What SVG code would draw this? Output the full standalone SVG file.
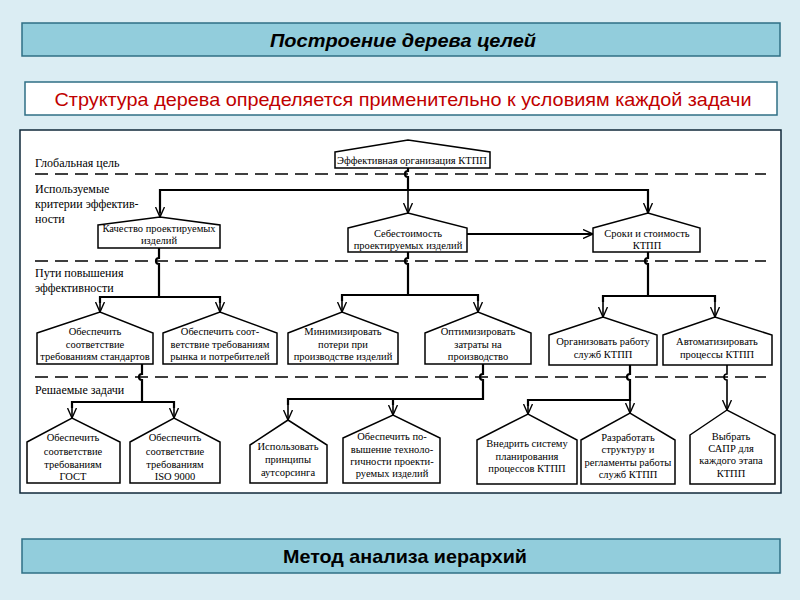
<svg xmlns="http://www.w3.org/2000/svg" width="800" height="600" viewBox="0 0 800 600">
<style>
.bg{fill:#dbedf3}
.band{fill:#92cddc;stroke:#2f6f85;stroke-width:1.5}
.sub{fill:#ffffff;stroke:#2f6f85;stroke-width:1.5}
.panel{fill:#ffffff;stroke:#10293a;stroke-width:1.5}
.node polygon{fill:#ffffff;stroke:#000;stroke-width:1.5;stroke-linejoin:miter}
.node text{font-family:"Liberation Serif","DejaVu Serif",serif;font-size:10.5px;fill:#000;text-anchor:middle}
.lbl{font-family:"Liberation Serif","DejaVu Serif",serif;font-size:12px;fill:#000}
.dash{stroke:#000;stroke-width:1.5;stroke-dasharray:13 7;fill:none}
#connectors path{fill:none;stroke:#000;stroke-width:1.6}
#connectors path.bus{stroke-width:2.2}
.title{font-family:"Liberation Sans",Arial,sans-serif;font-size:19px;font-weight:bold;fill:#000;text-anchor:middle}
</style>
<defs>
<marker id="ah" viewBox="0 0 10 10" refX="10" refY="5" markerWidth="10" markerHeight="10" markerUnits="userSpaceOnUse" orient="auto">
<path d="M0,0.5 L10,5 L0,9.5" fill="none" stroke="#000" stroke-width="1.4"/>
</marker>
</defs>
<rect class="bg" x="0" y="0" width="800" height="600"/>
<g id="header">
<rect class="band" x="22" y="23" width="758" height="33"/>
<text class="title" x="403" y="47" font-style="italic" textLength="266" lengthAdjust="spacingAndGlyphs">Построение дерева целей</text>
</g>
<g id="subtitle">
<rect class="sub" x="25" y="82" width="752" height="33"/>
<text x="403" y="106" font-family="'Liberation Sans',Arial,sans-serif" font-size="19" fill="#c00000" text-anchor="middle" textLength="697" lengthAdjust="spacingAndGlyphs">Структура дерева определяется применительно к условиям каждой задачи</text>
</g>
<g id="footer">
<rect class="band" x="22" y="539" width="758" height="34"/>
<text class="title" x="405" y="563" textLength="244" lengthAdjust="spacingAndGlyphs">Метод анализа иерархий</text>
</g>
<rect class="panel" x="20" y="130" width="761" height="363"/>
<g id="levels">
<line class="dash" x1="35" y1="174" x2="766" y2="174"/>
<line class="dash" x1="35" y1="261" x2="766" y2="261"/>
<line class="dash" x1="35" y1="377" x2="766" y2="377"/>
<text class="lbl" x="35" y="167">Глобальная цель</text>
<text class="lbl" x="35" y="193">Используемые</text>
<text class="lbl" x="35" y="208">критерии эффектив-</text>
<text class="lbl" x="35" y="223">ности</text>
<text class="lbl" x="35" y="277">Пути повышения</text>
<text class="lbl" x="35" y="292">эффективности</text>
<text class="lbl" x="35" y="394">Решаемые задачи</text>
</g>
<g id="connectors">
<path class="bus" d="M408,168 V171 a3,3 0 0 0 0,6 V190 M160,213 V190 H648 V213"/>
<path d="M160,190 V217" marker-end="url(#ah)"/>
<path d="M408,190 V213" marker-end="url(#ah)"/>
<path d="M648,190 V213" marker-end="url(#ah)"/>
<path class="bus" d="M467,234 H593" marker-end="url(#ah)"/>
<path class="bus" d="M159,248 V258 a3,3 0 0 0 0,6 V297 M100,303 V297 H220 V303"/>
<path d="M100,297 V312" marker-end="url(#ah)"/>
<path d="M220,297 V312" marker-end="url(#ah)"/>
<path class="bus" d="M408,252 V258 a3,3 0 0 0 0,6 V295 M342,301 V295 H478 V301"/>
<path d="M342,295 V312" marker-end="url(#ah)"/>
<path d="M478,295 V312" marker-end="url(#ah)"/>
<path class="bus" d="M648,252 V258 a3,3 0 0 0 0,6 V296 M603,302 V296 H715 V302"/>
<path d="M603,296 V317" marker-end="url(#ah)"/>
<path d="M715,296 V317" marker-end="url(#ah)"/>
<path class="bus" d="M142,364 V374 a3,3 0 0 0 0,6 V402 M72,408 V402 H174 V408"/>
<path d="M72,402 V418" marker-end="url(#ah)"/>
<path d="M174,402 V418" marker-end="url(#ah)"/>
<path class="bus" d="M483,364 V374 a3,3 0 0 0 0,6 V399 H288 V405 M393,399 V405"/>
<path d="M288,399 V420" marker-end="url(#ah)"/>
<path d="M393,399 V415" marker-end="url(#ah)"/>
<path class="bus" d="M630,365 V374 a3,3 0 0 0 0,6 V400 H528 V406"/>
<path d="M630,400 V413" marker-end="url(#ah)"/>
<path d="M528,400 V414" marker-end="url(#ah)"/>
<path d="M727,365 V374 a3,3 0 0 0 0,6 V410" marker-end="url(#ah)"/>
</g>
<g id="n0" class="node"><polygon points="335,152 408,140 490,152 490,168 335,168"/><text x="412" y="164">Эффективная организация КТПП</text></g>
<g id="n1" class="node"><polygon points="98,225 160,217 220,225 220,248 98,248"/><text x="159" y="232">Качество проектируемых</text><text x="159" y="244">изделий</text></g>
<g id="n2" class="node"><polygon points="348,228 408,213 467,228 467,252 348,252"/><text x="408" y="237">Себестоимость</text><text x="408" y="249">проектируемых изделий</text></g>
<g id="n3" class="node"><polygon points="593,228 648,213 700,228 700,252 593,252"/><text x="647" y="237">Сроки и стоимость</text><text x="647" y="249">КТПП</text></g>
<g id="n4" class="node"><polygon points="37,333 100,312 153,333 153,364 37,364"/><text x="95" y="335">Обеспечить</text><text x="95" y="348">соответствие</text><text x="95" y="360">требованиям стандартов</text></g>
<g id="n5" class="node"><polygon points="163,333 220,312 277,333 277,364 163,364"/><text x="220" y="335">Обеспечить соот-</text><text x="220" y="348">ветствие требованиям</text><text x="220" y="360">рынка и потребителей</text></g>
<g id="n6" class="node"><polygon points="288,333 342,312 398,333 398,364 288,364"/><text x="343" y="335">Минимизировать</text><text x="343" y="348">потери при</text><text x="343" y="360">производстве изделий</text></g>
<g id="n7" class="node"><polygon points="425,333 478,312 531,333 531,364 425,364"/><text x="478" y="335">Оптимизировать</text><text x="478" y="348">затраты на</text><text x="478" y="360">производство</text></g>
<g id="n8" class="node"><polygon points="549,335 603,317 657,335 657,365 549,365"/><text x="603" y="345">Организовать работу</text><text x="603" y="358">служб КТПП</text></g>
<g id="n9" class="node"><polygon points="663,335 715,317 772,335 772,365 663,365"/><text x="717" y="345">Автоматизировать</text><text x="717" y="358">процессы КТПП</text></g>
<g id="n10" class="node"><polygon points="27,442 72,418 120,442 120,483 27,483"/><text x="73" y="441">Обеспечить</text><text x="73" y="455">соответствие</text><text x="73" y="468">требованиям</text><text x="73" y="480">ГОСТ</text></g>
<g id="n11" class="node"><polygon points="130,442 174,418 220,442 220,483 130,483"/><text x="175" y="441">Обеспечить</text><text x="175" y="455">соответствие</text><text x="175" y="468">требованиям</text><text x="175" y="480">ISO 9000</text></g>
<g id="n12" class="node"><polygon points="250,445 288,420 327,445 327,483 250,483"/><text x="288" y="450">Использовать</text><text x="288" y="463">принципы</text><text x="288" y="476">аутсорсинга</text></g>
<g id="n13" class="node"><polygon points="343,438 393,415 440,438 440,483 343,483"/><text x="392" y="440">Обеспечить по-</text><text x="392" y="453">вышение техноло-</text><text x="392" y="465">гичности проекти-</text><text x="392" y="477">руемых изделий</text></g>
<g id="n14" class="node"><polygon points="477,440 528,414 577,440 577,484 477,484"/><text x="527" y="447">Внедрить систему</text><text x="527" y="460">планирования</text><text x="527" y="472">процессов КТПП</text></g>
<g id="n15" class="node"><polygon points="581,440 630,413 675,440 675,484 581,484"/><text x="628" y="441">Разработать</text><text x="628" y="453">структуру и</text><text x="628" y="466">регламенты работы</text><text x="628" y="478">служб КТПП</text></g>
<g id="n16" class="node"><polygon points="690,435 727,410 775,435 775,484 690,484"/><text x="731" y="440">Выбрать</text><text x="731" y="452">САПР для</text><text x="731" y="464">каждого этапа</text><text x="731" y="477">КТПП</text></g>
</svg>
